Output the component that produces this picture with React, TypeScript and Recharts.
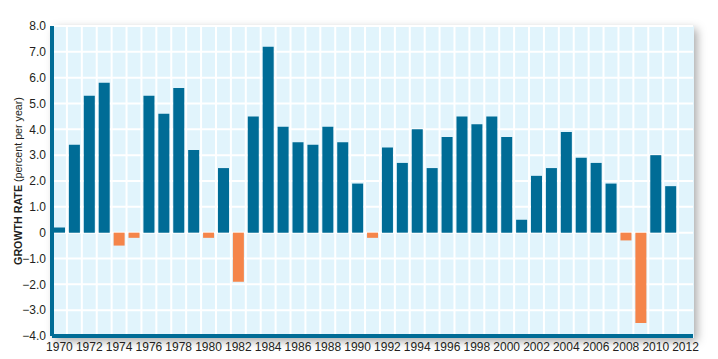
import { BarChart, Bar, Cell, XAxis, YAxis, CartesianGrid } from 'recharts'

// annual growth rate, percent per year (2012 has no bar)
const years = [
    1970, 1971, 1972, 1973, 1974, 1975, 1976, 1977, 1978, 1979,
    1980, 1981, 1982, 1983, 1984, 1985, 1986, 1987, 1988, 1989,
    1990, 1991, 1992, 1993, 1994, 1995, 1996, 1997, 1998, 1999,
    2000, 2001, 2002, 2003, 2004, 2005, 2006, 2007, 2008, 2009,
    2010, 2011, 2012,
]
const growth: (number | null)[] = [
    0.2, 3.4, 5.3, 5.8, -0.5, -0.2, 5.3, 4.6, 5.6, 3.2,
    -0.2, 2.5, -1.9, 4.5, 7.2, 4.1, 3.5, 3.4, 4.1, 3.5,
    1.9, -0.2, 3.3, 2.7, 4.0, 2.5, 3.7, 4.5, 4.2, 4.5,
    3.7, 0.5, 2.2, 2.5, 3.9, 2.9, 2.7, 1.9, -0.3, -3.5,
    3.0, 1.8, null,
]
const yTicks = [-4, -3, -2, -1, 0, 1, 2, 3, 4, 5, 6, 7, 8]

const BLUE = '#006C96'
const ORANGE = '#F5854A'
const BG = '#E1F4FC'
const TEXT = '#231F20'
const FONT = '"Liberation Sans", Arial, Helvetica, sans-serif'

const data = years.map((y, i) => ({ year: String(y), value: growth[i] }))

const fmtY = (v: number) => {
    if (v === 0) return '0'
    const s = Math.abs(v).toFixed(1)
    return v < 0 ? `\u2212${s}` : s
}

const YLabel = (props: any) => {
    const vb = props.viewBox || { x: 0, y: 26, width: 52, height: 310 }
    const cx = vb.x + 22
    const cy = vb.y + vb.height / 2
    return (
        <text
            x={cx}
            y={cy}
            transform={`rotate(-90 ${cx} ${cy})`}
            textAnchor="middle"
            fontSize={10.7}
            fontFamily={FONT}
            fill={TEXT}
        >
            <tspan fontWeight="bold">GROWTH RATE</tspan>
            <tspan> (percent per year)</tspan>
        </text>
    )
}

export default function App() {
    const W = 718
    const H = 359
    const left = 52
    const top = 26
    const right = 25
    const xAxisH = 23

    // white grid lines sit between the bars, not under them
    const vGrid = (args: any) => {
        const off = args && args.offset ? args.offset : { left, width: W - left - right }
        const step = off.width / data.length
        const out: number[] = []
        for (let i = 1; i < data.length; i++) out.push(off.left + i * step)
        return out
    }

    return (
        <div style={{ position: 'absolute', left: 0, top: 0, width: W, height: H, background: '#fff' }}>
            {/* drop shadow behind the plot panel */}
            <div
                style={{
                    position: 'absolute',
                    left: left,
                    top: top,
                    width: W - left - right + 1,
                    height: H - top - xAxisH + 2,
                    boxShadow: '3px 3px 9px rgba(0,0,0,0.35)',
                    background: BG,
                }}
            />
            <div style={{ position: 'absolute', left: 0, top: 0 }}>
                <BarChart
                    width={W}
                    height={H}
                    data={data}
                    margin={{ top: top, right: right, bottom: 0, left: 0 }}
                    barSize={11}
                >
                    <CartesianGrid
                        fill={BG}
                        stroke="#ffffff"
                        strokeWidth={2}
                        verticalCoordinatesGenerator={vGrid}
                    />
                    <XAxis
                        dataKey="year"
                        interval={1}
                        height={xAxisH}
                        tickLine={false}
                        tickSize={0}
                        tickMargin={6}
                        axisLine={{ stroke: BLUE, strokeWidth: 4 }}
                        tick={{ fontSize: 12, fill: TEXT, fontFamily: FONT }}
                    />
                    <YAxis
                        width={left}
                        domain={[-4, 8]}
                        ticks={yTicks}
                        interval={0}
                        tickFormatter={fmtY}
                        tickLine={false}
                        tickSize={0}
                        tickMargin={6}
                        axisLine={{ stroke: BLUE, strokeWidth: 4 }}
                        tick={{ fontSize: 12, fill: TEXT, fontFamily: FONT }}
                        label={<YLabel />}
                    />
                    <Bar dataKey="value" isAnimationActive={false}>
                        {data.map((d, i) => (
                            <Cell key={`c-${i}`} fill={(d.value ?? 0) < 0 ? ORANGE : BLUE} />
                        ))}
                    </Bar>
                </BarChart>
            </div>
        </div>
    )
}
